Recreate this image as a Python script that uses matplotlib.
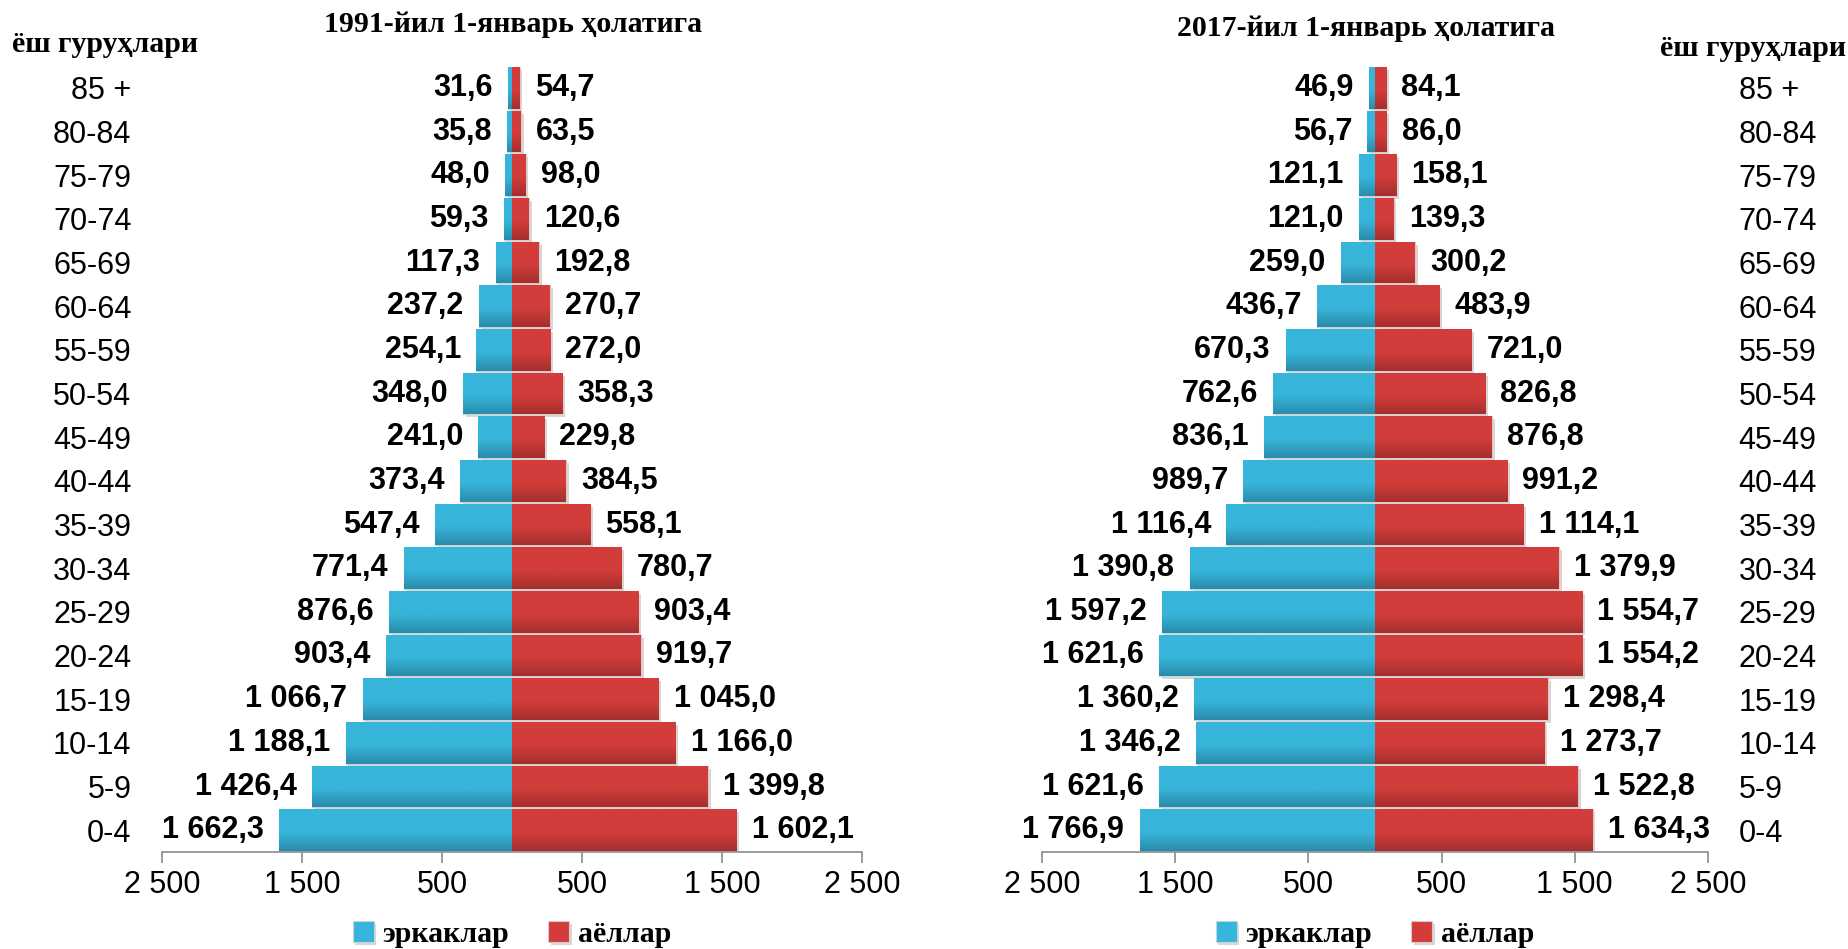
import numpy as np
import matplotlib
matplotlib.use("Agg")
import matplotlib.pyplot as plt
from matplotlib.colors import LinearSegmentedColormap
import matplotlib.patheffects as pe

ages = ["85 +", "80-84", "75-79", "70-74", "65-69", "60-64", "55-59", "50-54",
        "45-49", "40-44", "35-39", "30-34", "25-29", "20-24", "15-19", "10-14",
        "5-9", "0-4"]
men_1991 = [31.6, 35.8, 48.0, 59.3, 117.3, 237.2, 254.1, 348.0, 241.0, 373.4,
            547.4, 771.4, 876.6, 903.4, 1066.7, 1188.1, 1426.4, 1662.3]
women_1991 = [54.7, 63.5, 98.0, 120.6, 192.8, 270.7, 272.0, 358.3, 229.8, 384.5,
              558.1, 780.7, 903.4, 919.7, 1045.0, 1166.0, 1399.8, 1602.1]
men_2017 = [46.9, 56.7, 121.1, 121.0, 259.0, 436.7, 670.3, 762.6, 836.1, 989.7,
            1116.4, 1390.8, 1597.2, 1621.6, 1360.2, 1346.2, 1621.6, 1766.9]
women_2017 = [84.1, 86.0, 158.1, 139.3, 300.2, 483.9, 721.0, 826.8, 876.8, 991.2,
              1114.1, 1379.9, 1554.7, 1554.2, 1298.4, 1273.7, 1522.8, 1634.3]
title_1991 = "1991-йил 1-январь ҳолатига"
title_2017 = "2017-йил 1-январь ҳолатига"
age_title = "ёш гуруҳлари"
legend_labels = ["эркаклар", "аёллар"]
xticks = [-2500, -1500, -500, 500, 1500, 2500]

SERIF = ["Liberation Serif", "DejaVu Serif"]
SANS = ["Liberation Sans", "DejaVu Sans"]
FS = 22      # sans text size
FT = 21.5    # serif title size

CYAN_TOP, CYAN_BOT = "#37b5da", "#2a8cab"
RED_TOP, RED_BOT = "#d23d3b", "#a52f2d"

W, H = 1849, 949
fig = plt.figure(figsize=(W / 100, H / 100), dpi=100)


def fmt(v):
    return f"{v:,.1f}".replace(",", " ").replace(".", ",")


def shade(ax, bars, top, bot):
    cmap = LinearSegmentedColormap.from_list("g", [(0, bot), (0.45, top), (1, top)])
    grad = np.linspace(0, 1, 64).reshape(-1, 1)
    for b in bars:
        x0, y0, w, h = b.get_x(), b.get_y(), b.get_width(), b.get_height()
        im = ax.imshow(grad, extent=[x0, x0 + w, y0, y0 + h], origin="lower",
                       cmap=cmap, aspect="auto", zorder=2.5, interpolation="bilinear")
        im.set_clip_path(b)


def pyramid(rect, men, women, title, side, title_xy):
    ax = fig.add_axes(rect)
    n = len(ages)
    y = np.arange(n)[::-1]
    shadow = [pe.SimplePatchShadow(offset=(2, -2), alpha=0.18), pe.Normal()]
    bm = ax.barh(y, -np.array(men), height=0.95, color=CYAN_TOP, edgecolor="#c8d4d8",
                 linewidth=0.8, zorder=2, label=legend_labels[0])
    bw = ax.barh(y, np.array(women), height=0.95, color=RED_TOP, edgecolor="#dcc8c8",
                 linewidth=0.8, zorder=2, label=legend_labels[1])
    for b in list(bm) + list(bw):
        b.set_path_effects(shadow)
    shade(ax, bm, CYAN_TOP, CYAN_BOT)
    shade(ax, bw, RED_TOP, RED_BOT)
    ax.set_xlim(-2500, 2500)
    ax.set_ylim(-0.5, n - 0.5)
    for yi, m, w in zip(y, men, women):
        ax.annotate(fmt(m), (-m, yi), xytext=(-11, 0), textcoords="offset points",
                    ha="right", va="center", fontsize=FS, fontweight="bold",
                    family=SANS, zorder=4)
        ax.annotate(fmt(w), (w, yi), xytext=(11, 0), textcoords="offset points",
                    ha="left", va="center", fontsize=FS, fontweight="bold",
                    family=SANS, zorder=4)
    for s in ["top", "left", "right"]:
        ax.spines[s].set_visible(False)
    ax.spines["bottom"].set_color("#8c8c8c")
    ax.spines["bottom"].set_linewidth(1.2)
    ax.set_xticks(xticks)
    ax.set_xticklabels([fmt(abs(t)).replace(",0", "") for t in xticks],
                       fontsize=FS, family=SANS)
    ax.tick_params(axis="x", direction="out", length=8, width=1.2, color="#8c8c8c", pad=5)
    ax.set_yticks(y)
    ax.set_yticklabels(ages, fontsize=FS, family=SANS)
    ax.tick_params(axis="y", length=0, pad=22)
    if side == "right":
        ax.yaxis.tick_right()
        ax.tick_params(axis="y", length=0, pad=22)
    fig.text(title_xy[0] / W, 1 - title_xy[1] / H, title, ha="center", va="center",
             fontsize=FT, fontweight="bold", family=SERIF)
    ax.legend(handles=[bm, bw], loc="center", bbox_to_anchor=(0.5, -0.105),
              ncol=2, frameon=False, handlelength=0.7, handleheight=0.7,
              handletextpad=0.3, columnspacing=1.3,
              prop=dict(family=SERIF, weight="bold", size=FT))
    return ax


bottom = 1 - 852 / H
height = (852 - 66) / H
pyramid([162 / W, bottom, 700 / W, height], men_1991, women_1991, title_1991,
        "left", (513, 24))
pyramid([1042 / W, bottom, 666 / W, height], men_2017, women_2017, title_2017,
        "right", (1366, 28))

fig.text(12 / W, 1 - 44 / H, age_title, ha="left", va="center", fontsize=FT,
         fontweight="bold", family=SERIF)
fig.text(1846 / W, 1 - 48 / H, age_title, ha="right", va="center", fontsize=FT,
         fontweight="bold", family=SERIF)

fig.savefig("out.png", dpi=100, facecolor="white")
